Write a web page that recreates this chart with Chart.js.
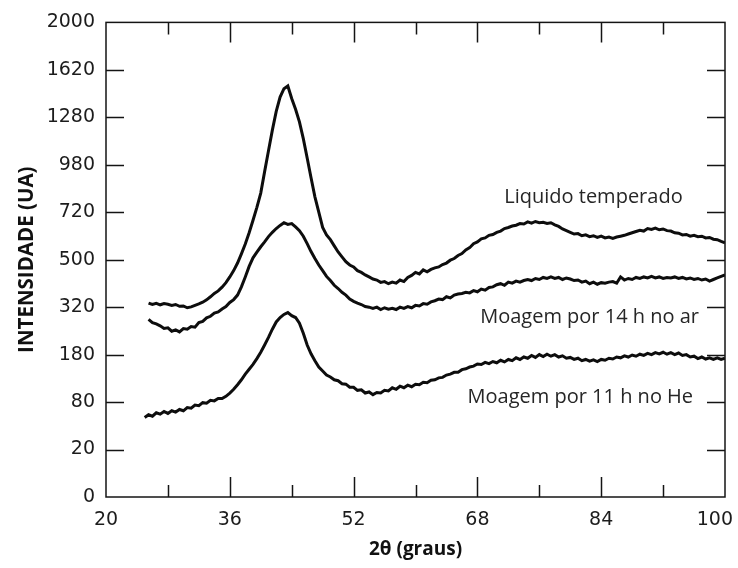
<!DOCTYPE html>
<html>
<head>
<meta charset="utf-8">
<script src="https://cdn.jsdelivr.net/npm/chart.js@4.4.1/dist/chart.umd.min.js"></script>
<style>
  html, body { margin: 0; padding: 0; background: #ffffff; }
  canvas { display: block; }
</style>
</head>
<body>
<canvas id="xrd" width="738" height="568"></canvas>
<script>
// 2θ sampling grid (degrees), 0.5° apart
const twoTheta = Array.from({ length: 151 }, (_, i) => 25 + i * 0.5);

// Intensity (UA) of each pattern on that grid
const liquidoTemperado = [
  null, 334, 329, 333, 328, 332, 330, 326, 329, 323,
  324, 318, 321, 326, 331, 337, 345, 356, 368, 377,
  391, 408, 430, 455, 486, 525, 568, 620, 680, 745,
  820, 940, 1065, 1195, 1320, 1420, 1480, 1500, 1410, 1335,
  1250, 1140, 1020, 905, 800, 720, 645, 610, 588, 560,
  533, 512, 492, 478, 470, 455, 448, 438, 430, 422,
  418, 409, 412, 404, 410, 406, 418, 412, 428, 436,
  448, 442, 458, 450, 460, 466, 470, 480, 486, 498,
  505, 518, 526, 542, 552, 570, 578, 592, 596, 608,
  612, 622, 628, 640, 645, 652, 656, 664, 662, 672,
  666, 674, 668, 670, 664, 668, 658, 650, 638, 630,
  622, 614, 616, 606, 610, 602, 606, 598, 604, 596,
  600, 594, 600, 604, 608, 614, 620, 626, 632, 628,
  640, 636, 642, 634, 638, 630, 628, 620, 618, 610,
  612, 604, 608, 602, 604, 596, 598, 590, 588, 580,
  574
];

const moagem14hAr = [
  null, 280, 270, 266, 260, 252, 254, 244, 248, 242,
  252, 250, 258, 256, 270, 274, 285, 290, 300, 304,
  314, 322, 336, 346, 362, 392, 430, 472, 508, 532,
  556, 578, 602, 622, 640, 655, 668, 660, 664, 648,
  630, 604, 570, 535, 505, 478, 455, 432, 416, 398,
  386, 372, 362, 348, 340, 334, 329, 322, 320, 316,
  320, 312, 318, 313, 316, 312, 320, 316, 322, 318,
  326, 324, 332, 330, 338, 342, 348, 346, 356, 352,
  362, 366, 368, 372, 370, 378, 374, 384, 380, 390,
  392, 400, 404, 398, 410, 406, 414, 410, 416, 420,
  416, 424, 420, 428, 424, 430, 424, 428, 420, 426,
  422, 416, 418, 410, 414, 404, 410, 402, 408, 406,
  410, 412, 406, 430, 418, 424, 420, 428, 424, 430,
  426, 432, 426, 430, 424, 428, 426, 430, 424, 428,
  422, 426, 420, 424, 418, 422, 414, 420, 426, 432,
  438
];

const moagem11hHe = [
  56, 60, 58, 63, 61, 65, 62, 66, 64, 68,
  66, 71, 70, 75, 74, 79, 78, 83, 82, 86,
  86, 90, 96, 103, 112, 122, 134, 145, 156, 170,
  186, 205, 226, 250, 272, 286, 296, 302, 292, 286,
  268, 238, 205, 182, 165, 150, 141, 132, 128, 122,
  120, 114, 113, 107, 107, 101, 102, 96, 98, 93,
  97, 96, 101, 100, 106, 103, 109, 106, 111, 108,
  113, 112, 117, 116, 121, 122, 126, 127, 132, 134,
  138, 138, 144, 146, 150, 152, 157, 156, 161, 158,
  163, 160, 166, 162, 168, 165, 172, 168, 174, 171,
  178, 173, 180, 175, 181, 176, 180, 174, 177, 171,
  173, 168, 171, 165, 168, 164, 167, 163, 168, 166,
  171, 169, 174, 172, 177, 174, 179, 176, 181, 178,
  183, 180, 185, 182, 186, 181, 185, 180, 184, 178,
  180, 174, 176, 170, 174, 169, 172, 168, 172, 168,
  171
];

// Axis ticks
const yTickLabels = [0, 20, 80, 180, 320, 500, 720, 980, 1280, 1620, 2000];
const xTickLabels = [20, 36, 52, 68, 84, 100];
const xMinorTicks = [28, 44, 60, 76, 92];

// Intensity is plotted on a square-root axis: position = sqrt(I / 20)
const SQRT_UNIT = 20;
const toAxis = v => (v == null ? null : Math.sqrt(v / SQRT_UNIT));

// Curve captions, anchored in data coordinates (2θ, intensity)
const captions = [
  { text: 'Liquido temperado', at: [83.0, 800] },
  { text: 'Moagem por 14 h no ar', at: [82.5, 286] },
  { text: 'Moagem por 11 h no He', at: [81.3, 88] }
];

const toPoints = values => twoTheta.map((t, i) => ({ x: t, y: toAxis(values[i]) }));

const lineStyle = {
  borderColor: '#0d0d0d',
  borderWidth: 3,
  pointRadius: 0,
  tension: 0,
  fill: false,
  spanGaps: false
};

const tickFontCss = '19px "DejaVu Sans"';
const tickColor = '#1c1c1c';

// Boxed frame with inward tick marks on all four sides, 2θ tick labels and captions
const framePlugin = {
  id: 'frame',
  afterDatasetsDraw(chart) {
    const { ctx, chartArea, scales } = chart;
    const { left, right, top, bottom } = chartArea;
    const x = scales.x, y = scales.y;
    ctx.save();
    ctx.strokeStyle = '#141414';
    ctx.lineWidth = 1.5;
    ctx.strokeRect(left, top, right - left, bottom - top);

    ctx.beginPath();
    xTickLabels.slice(1, -1).forEach(v => {
      const px = Math.round(x.getPixelForValue(v)) + 0.5;
      ctx.moveTo(px, bottom); ctx.lineTo(px, bottom - 20);
      ctx.moveTo(px, top); ctx.lineTo(px, top + 20);
    });
    xMinorTicks.forEach(v => {
      const px = Math.round(x.getPixelForValue(v)) + 0.5;
      ctx.moveTo(px, bottom); ctx.lineTo(px, bottom - 12);
      ctx.moveTo(px, top); ctx.lineTo(px, top + 12);
    });
    yTickLabels.slice(1, -1).forEach(v => {
      const py = Math.round(y.getPixelForValue(toAxis(v))) + 0.5;
      ctx.moveTo(left, py); ctx.lineTo(left + 18, py);
      ctx.moveTo(right, py); ctx.lineTo(right - 18, py);
    });
    ctx.stroke();

    // 2θ labels, kept inside the canvas at the right edge
    ctx.fillStyle = tickColor;
    ctx.font = tickFontCss;
    ctx.textAlign = 'center';
    ctx.textBaseline = 'alphabetic';
    xTickLabels.forEach(v => {
      const label = String(v);
      const w = ctx.measureText(label).width;
      const cx = Math.min(x.getPixelForValue(v), chart.width - 5 - w / 2);
      ctx.fillText(label, cx, bottom + 28);
    });

    ctx.fillStyle = '#262626';
    ctx.font = '20px "Open Sans"';
    ctx.textBaseline = 'middle';
    captions.forEach(c => {
      ctx.fillText(c.text, x.getPixelForValue(c.at[0]), y.getPixelForValue(toAxis(c.at[1])));
    });
    ctx.restore();
  }
};

new Chart(document.getElementById('xrd'), {
  type: 'line',
  data: {
    datasets: [
      { label: 'Liquido temperado', data: toPoints(liquidoTemperado), ...lineStyle },
      { label: 'Moagem por 14 h no ar', data: toPoints(moagem14hAr), ...lineStyle },
      { label: 'Moagem por 11 h no He', data: toPoints(moagem11hHe), ...lineStyle }
    ]
  },
  options: {
    responsive: false,
    devicePixelRatio: 1,
    animation: false,
    layout: { padding: { top: 21, right: 13, bottom: 0, left: 0 } },
    plugins: {
      legend: { display: false },
      tooltip: { enabled: false }
    },
    scales: {
      x: {
        type: 'linear',
        min: 20,
        max: 100,
        grid: { display: false, drawTicks: false },
        border: { display: false },
        afterBuildTicks: scale => { scale.ticks = xTickLabels.map(v => ({ value: v })); },
        afterFit: scale => { scale.height = 71; scale.paddingLeft = 0; scale.paddingRight = 0; },
        ticks: { display: false },
        title: {
          display: true,
          text: '2θ (graus)',
          font: { family: '"Open Sans"', size: 19, weight: 'bold' },
          color: '#111111',
          padding: { top: 4, bottom: 7 }
        }
      },
      y: {
        type: 'linear',
        min: 0,
        max: toAxis(yTickLabels[yTickLabels.length - 1]),
        grid: { display: false, drawTicks: false },
        border: { display: false },
        afterBuildTicks: scale => { scale.ticks = yTickLabels.map(v => ({ value: toAxis(v) })); },
        afterFit: scale => { scale.width = 106; },
        ticks: {
          font: { family: '"DejaVu Sans"', size: 19 },
          color: tickColor,
          padding: 11,
          autoSkip: false,
          callback: (value, index) => yTickLabels[index]
        },
        title: {
          display: true,
          text: 'INTENSIDADE (UA)',
          font: { family: '"Open Sans"', size: 20.5, weight: 'bold' },
          color: '#111111',
          padding: { top: 15, bottom: 0 }
        }
      }
    }
  },
  plugins: [framePlugin]
});
</script>
</body>
</html>
